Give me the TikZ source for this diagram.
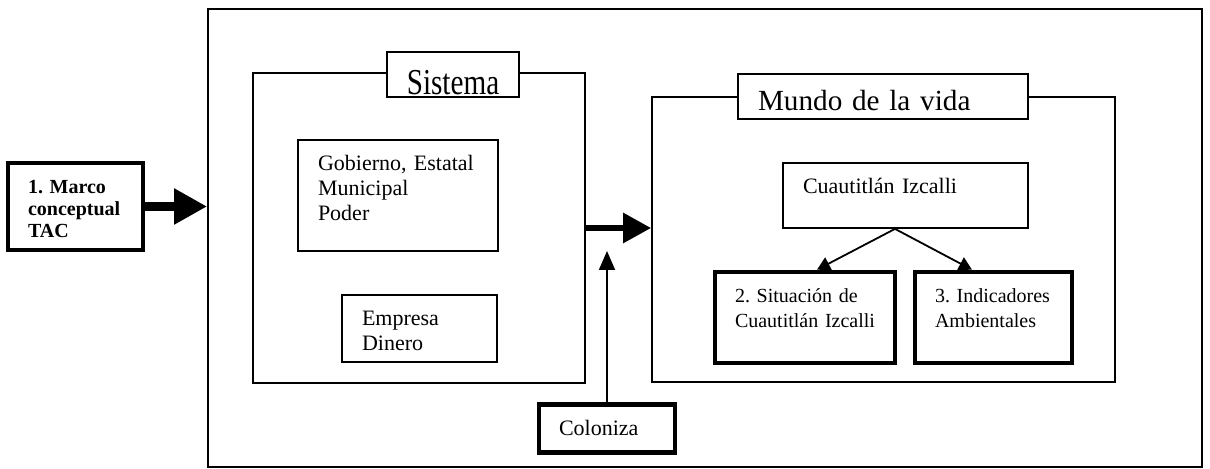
\documentclass[tikz,border=0pt]{standalone}
\usepackage{fontspec}
\setmainfont{Liberation Serif}
\usepackage{graphicx}
\usepackage{tikz}
\usetikzlibrary{arrows.meta}
\frenchspacing
\tikzstyle{Frame}=[draw,rectangle,line width=0.9pt,inner sep=0pt]
\tikzstyle{Box}=[draw,rectangle,line width=0.9pt,inner xsep=10pt,inner ysep=8.5pt,
text height=7pt,align=left,font=\fontsize{11}{12.5}\selectfont]
\tikzstyle{ThickBox}=[Box,line width=2.3pt,font=\fontsize{10}{12.5}\selectfont]
\tikzstyle{Title}=[draw,fill=white,line width=0.9pt,inner xsep=10pt,inner ysep=0pt,
text depth=0pt,minimum height=22.5pt,font=\fontsize{14.6}{17}\selectfont]
\tikzstyle{Edge}=[draw,line width=0.9pt,-{Triangle[length=6.5pt,width=7pt]}]

\begin{document}
\begin{tikzpicture}[x=0.5pt,y=-0.5pt]
            \useasboundingbox(0,0)rectangle(1210,469);
            \node[Frame,minimum width=497pt,minimum height=229pt](frame)at(705,238){};
            \node[Frame,minimum width=166pt,minimum height=155pt](sis)at(419,228){};
            \node[Frame,minimum width=231.5pt,minimum height=142.5pt](mun)at(883.5,239.5){};
            \node[Title,minimum width=66pt,text height=20pt](sistit)at(453,74.5)
                {\scalebox{1}[1.25]{Sistema}};
            \node[Title,text width=125pt,align=left,text height=14.5pt](muntit)at(883,96.5)
                {Mundo de la vida};
            \node[Box,text width=80pt,text depth=31.5pt](gob)at(398,195.5)
                {Gobierno, Estatal\\Municipal\\Poder};
            \node[Box,text width=57.5pt,text depth=9.5pt](emp)at(419.5,328.5)
                {Empresa\\Dinero};
            \node[Box,text width=102.5pt,text depth=8.5pt](cua)at(905.5,195.5)
                {Cuautitlán Izcalli};
            \node[ThickBox,text width=70pt,text depth=21.5pt](sit)at(805,317.5)
                {2. Situación de\\Cuautitlán~Izcalli};
            \node[ThickBox,text width=58.5pt,text depth=21.5pt](ind)at(993.5,317.5)
                {3.~Indicadores\\Ambientales};
            \node[ThickBox,font=\fontsize{11}{12.5}\selectfont,text width=48pt,
                text depth=0pt](col)at(607,428.5){Coloniza};
            \node[ThickBox,line width=2pt,font=\fontsize{10}{11}\selectfont\bfseries,
                text width=47.5pt,text depth=19.5pt](tac)at(75.5,206.5)
                {1. Marco\\conceptual\\TAC};
            \draw[line width=4.5pt,-{Triangle[length=16.5pt,width=17pt]}]
                (tac.east)--(tac.east-|frame.west);
            \draw[line width=3pt,-{Triangle[length=14pt,width=14.5pt]}]
                (sis.east)--(sis.east-|mun.west);
            \coordinate(colTip)at(607,251);
            \draw[Edge,-{Triangle[length=9.5pt,width=8pt]}](col.north)--(colTip);
            \coordinate(cuaFoot)at([xshift=-5.25pt]cua.south);
            \draw[Edge](cuaFoot)--([xshift=6pt]sit.north);
            \draw[Edge](cuaFoot)--([xshift=-10.75pt]ind.north);
        \end{tikzpicture}
\end{document}
